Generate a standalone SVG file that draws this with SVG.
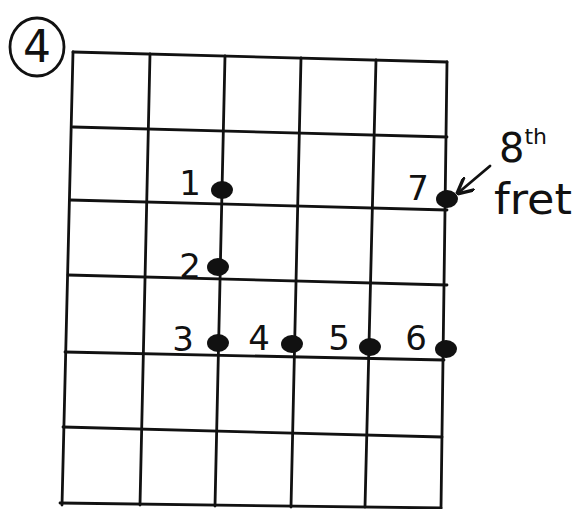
<svg xmlns="http://www.w3.org/2000/svg" width="576" height="509" viewBox="0 0 576 509">
<style>
.g{stroke:#111;stroke-width:2.8;fill:none;stroke-linecap:round}
.d{fill:#111}
.t{font-family:"DejaVu Sans","Liberation Sans",sans-serif;font-size:34px;fill:#111}
</style>
<defs>
<marker id="ah" viewBox="0 0 10 10" refX="9" refY="5" markerWidth="6" markerHeight="6" orient="auto"><path d="M0,0 L10,5 L0,10" fill="none" stroke="#111" stroke-width="2"/></marker>
</defs>
<rect width="576" height="509" fill="#fff"/>
<g id="label4">
<ellipse cx="37" cy="47" rx="27" ry="29" class="g"/>
<text x="37" y="62" text-anchor="middle" class="t" style="font-size:44px">4</text>
</g>
<g id="grid">
<path class="g" d="M73,52 L62,505 M150,54 L140,505 M225,56 L215,506 M301,58 L291,507 M376,60 L365,507 M447,62 L441,508"/>
<path class="g" d="M73,52 L447,62 M73,127 L447,137 M70,200 L447,210 M68,275 L447,285 M65,352 L444,360 M63,427 L442,437 M60,503 L441,508"/>
</g>
<g id="n1"><ellipse cx="222" cy="190" rx="11" ry="9" class="d"/><text x="190" y="195" text-anchor="middle" class="t">1</text></g>
<g id="n2"><ellipse cx="218" cy="267" rx="11" ry="9" class="d"/><text x="190" y="278" text-anchor="middle" class="t">2</text></g>
<g id="n3"><ellipse cx="218" cy="343" rx="11" ry="9" class="d"/><text x="183" y="351" text-anchor="middle" class="t">3</text></g>
<g id="n4"><ellipse cx="292" cy="344" rx="11" ry="9" class="d"/><text x="259" y="350" text-anchor="middle" class="t">4</text></g>
<g id="n5"><ellipse cx="370" cy="347" rx="11" ry="9" class="d"/><text x="339" y="350" text-anchor="middle" class="t">5</text></g>
<g id="n6"><ellipse cx="446" cy="349" rx="11" ry="9" class="d"/><text x="416" y="350" text-anchor="middle" class="t">6</text></g>
<g id="n7"><ellipse cx="447" cy="199" rx="11" ry="9" class="d"/><text x="418" y="200" text-anchor="middle" class="t">7</text></g>
<g id="fretlabel">
<text x="499" y="162" class="t" style="font-size:40px">8<tspan font-size="22" dy="-18">th</tspan></text>
<text x="494" y="214" class="t" style="font-size:42px" textLength="78" lengthAdjust="spacingAndGlyphs">fret</text>
</g>
<g id="connectors">
<path class="g" d="M490,166 L458,193" marker-end="url(#ah)"/>
</g>
</svg>
